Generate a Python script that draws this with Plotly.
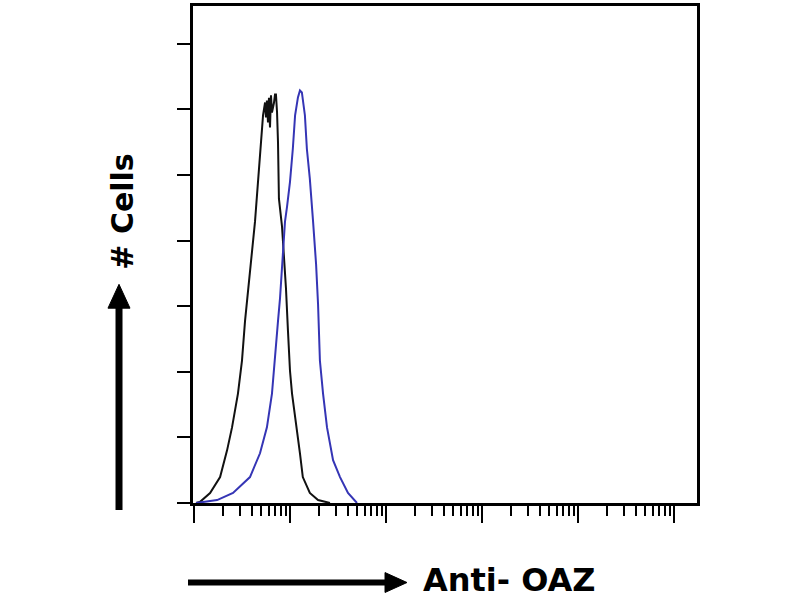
import plotly.graph_objects as go

# ---- data (fluorescence intensity, cell counts) ----
control_intensity = [1.05, 1.15, 1.47, 1.87, 2.21, 2.49, 2.87, 3.16, 3.40, 3.65, 4.02, 4.32,
                     4.64, 4.87, 5.24, 5.50, 5.62, 5.75, 5.90, 6.04, 6.19, 6.34, 6.49, 6.81,
                     6.98, 7.14, 7.33, 7.50, 7.67, 8.26, 8.66, 9.08, 9.53, 10.0, 10.5, 11.8,
                     12.7, 13.6, 16.1, 19.6, 26.1]
control_counts = [0, 0.6, 6.1, 15.8, 32.1, 46.1, 66.7, 86.7, 110.9, 130.9, 153.3, 171.5,
                  197.6, 215.8, 236.4, 244.2, 235, 245.4, 232, 247, 229, 248.5, 238, 244,
                  249.1, 249.1, 238.2, 220, 185.5, 168.5, 151.5, 130.9, 104.8, 80.6, 66.7, 46.1,
                  30.3, 15.8, 6.1, 1.8, 0]

oaz_intensity = [1.05, 1.74, 2.55, 3.83, 4.87, 5.75, 6.49, 6.98, 7.50, 7.87, 8.45, 8.87,
                 9.31, 10.0, 10.7, 11.3, 12.1, 12.7, 13.3, 14.3, 15.0, 16.1, 17.4, 18.7,
                 19.6, 20.5, 22.1, 24.3, 28.1, 33.2, 40.2, 49.9]
oaz_counts = [0, 1.8, 6.1, 15.8, 30.3, 46.1, 66.7, 86.7, 110.9, 124.8, 151.5, 171.5,
              180.6, 195.8, 215.8, 236.4, 247.3, 251.5, 250.3, 236.4, 215.8, 197.6, 171.5, 145.5,
              121.2, 86.7, 66.7, 46.1, 26.1, 15.8, 6.1, 0]

major_ticks = [1, 10, 100, 1000, 10000, 100000]
minor_mantissas = [2, 3, 4, 5, 6, 7, 8, 9]
minor_ticks = [m * d for d in major_ticks for m in minor_mantissas]
y_ticks = [0, 40, 80, 120, 160, 200, 240, 280]

fig = go.Figure()
fig.add_trace(go.Scatter(x=control_intensity, y=control_counts, mode="lines",
                         line=dict(color="#111111", width=2), showlegend=False))
fig.add_trace(go.Scatter(x=oaz_intensity, y=oaz_counts, mode="lines",
                         line=dict(color="#3535b5", width=2), showlegend=False))

fig.update_xaxes(type="log", range=[-0.0104, 5.24], showgrid=False, zeroline=False,
                 showline=True, linecolor="black", linewidth=2.5, mirror=True,
                 tickmode="array", tickvals=major_ticks, showticklabels=False,
                 ticks="outside", ticklen=17, tickwidth=2, tickcolor="black",
                 minor=dict(tickmode="array", tickvals=minor_ticks, ticks="outside",
                            ticklen=10, tickwidth=1.5, tickcolor="black", showgrid=False))
fig.update_yaxes(range=[0, 303], showgrid=False, zeroline=False,
                 showline=True, linecolor="black", linewidth=2.5, mirror=True,
                 tickmode="array", tickvals=y_ticks, showticklabels=False,
                 ticks="outside", ticklen=13, tickwidth=2, tickcolor="black")

# arrows (paper coordinates relative to plot area)
fig.add_shape(type="line", xref="paper", yref="paper", x0=-0.1468, x1=-0.1468, y0=-0.014, y1=0.40,
              line=dict(color="black", width=7))
fig.add_shape(type="path", xref="paper", yref="paper",
              path="M -0.1687 0.392 L -0.1468 0.44 L -0.125 0.392 Z",
              fillcolor="black", line=dict(color="black", width=1))
fig.add_shape(type="line", xref="paper", yref="paper", x0=-0.0099, x1=0.39, y0=-0.16, y1=-0.16,
              line=dict(color="black", width=6))
fig.add_shape(type="path", xref="paper", yref="paper",
              path="M 0.381 -0.14 L 0.4246 -0.16 L 0.381 -0.18 Z",
              fillcolor="black", line=dict(color="black", width=1))

fig.add_annotation(text="# Cells", xref="paper", yref="paper", x=-0.139, y=0.586,
                   textangle=-90, showarrow=False, xanchor="center", yanchor="middle",
                   font=dict(family="DejaVu Sans", size=30, color="black", weight="bold"))
fig.add_annotation(text="Anti- OAZ", xref="paper", yref="paper", x=0.627, y=-0.154,
                   showarrow=False, xanchor="center", yanchor="middle",
                   font=dict(family="DejaVu Sans", size=32, color="black", weight="bold"))

fig.update_layout(width=800, height=600, margin=dict(l=193, r=103, t=3, b=97),
                  paper_bgcolor="white", plot_bgcolor="white")

fig.write_html("out.html", config={"displayModeBar": False},
               post_script="document.body.style.margin='0px';document.body.style.padding='0px';")
